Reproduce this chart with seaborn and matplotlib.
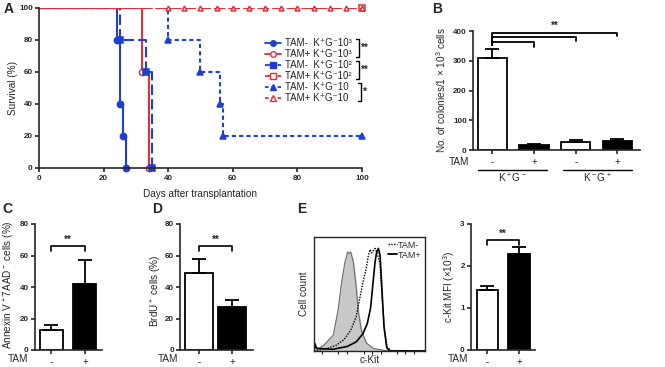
import numpy as np
import pandas as pd
import matplotlib
matplotlib.use('Agg')
import matplotlib.pyplot as plt
import seaborn as sns
from matplotlib.lines import Line2D

sns.set_style('ticks')
plt.rcParams['font.family'] = ['Liberation Sans', 'DejaVu Sans']
plt.rcParams['mathtext.default'] = 'regular'
plt.rcParams['axes.linewidth'] = 1.2
plt.rcParams['xtick.major.width'] = 1.2
plt.rcParams['ytick.major.width'] = 1.2
plt.rcParams['xtick.major.size'] = 3
plt.rcParams['ytick.major.size'] = 3
plt.rcParams['xtick.major.pad'] = 2
plt.rcParams['ytick.major.pad'] = 1.5

BLUE = '#1f3fd0'
RED = '#e0303a'

# ---------- dados ----------
# A: curvas de sobrevida (tempo do evento, sobrevida após o evento)
t_neg_1e3 = [0, 24, 25, 26, 27]
s_neg_1e3 = [100, 80, 40, 20, 0]
t_pos_1e3 = [0, 32, 34]
s_pos_1e3 = [100, 60, 0]
t_neg_1e2 = [0, 25, 33, 35]
s_neg_1e2 = [100, 80, 60, 0]
t_pos_1e2 = [0, 100]
s_pos_1e2 = [100, 100]
t_neg_10 = [0, 40, 50, 56, 57, 100]
s_neg_10 = [100, 80, 60, 40, 20, 20]
t_pos_10 = [0, 40, 45, 50, 55, 60, 65, 70, 75, 80, 85, 90, 95, 100]
s_pos_10 = [100] * len(t_pos_10)

# B: colônias
b_groups = ['K+G- TAM-', 'K+G- TAM+', 'K-G+ TAM-', 'K-G+ TAM+']
b_mean = [310, 17, 27, 31]
b_err = [28, 3, 8, 5]

# C: Annexin V+ 7AAD-
c_mean = [12.5, 42]
c_err = [3.5, 15]
# D: BrdU+
d_mean = [49, 27.5]
d_err = [9, 4]
# E: c-Kit MFI
e_mean = [1.43, 2.29]
e_err = [0.09, 0.16]
tam_labels = ['-', '+']

# E: histogramas (escala relativa 0-100)
h_ctrl_x = [0, 1, 4, 8.4, 17.4, 21.9, 24.9, 27.9, 30.3, 31.8, 33, 35.4, 37.8, 39.9, 42.9, 47.4, 53.5, 62.5, 100]
h_ctrl_y = [0, 4, 2, 4.7, 14, 37.3, 60.6, 78.1, 86.9, 85.4, 86.9, 78.1, 57.7, 34.4, 16.9, 6.7, 2.3, 0.6, 0]
h_neg_x = [0, 11, 20, 27, 33, 38, 41, 44, 47, 49, 50.5, 52, 53.5, 55, 57, 59.5, 61.5, 63.5, 66, 70, 100]
h_neg_y = [0, 2, 5, 10, 18, 30, 45, 60, 72, 84, 89, 86, 88, 90, 86, 76, 45, 18, 3, 0, 0]
h_pos_x = [0, 0.6, 2.4, 17, 30, 38, 44, 48, 51, 53, 55, 56.5, 58, 59.5, 61, 63, 65.5, 68.5, 100]
h_pos_y = [0, 6.7, 2.3, 1.5, 4, 8, 15, 24, 38, 58, 78, 87, 90, 84, 58, 22, 3, 0, 0]

W, H = 665, 367
TICK_FS = 5.8
LAB_FS = 7.2
fig = plt.figure(figsize=(W / 100, H / 100), dpi=100)


def add_ax(l, t, r, b):
    return fig.add_axes([l / W, 1 - b / H, (r - l) / W, (b - t) / H])


def fx(x):
    return x / W


def fy(y):
    return 1 - y / H


def style(ax):
    for lab in ax.get_xticklabels() + ax.get_yticklabels():
        lab.set_fontweight('bold')
        lab.set_fontsize(TICK_FS)
    sns.despine(ax=ax)


def bracket(ax, x0, x1, y, drop, txt):
    ax.plot([x0, x0, x1, x1], [y - drop, y, y, y - drop], color='black', lw=1.2, clip_on=False)
    ax.text((x0 + x1) / 2, y + drop * 0.3, txt, ha='center', va='bottom', fontsize=7, fontweight='bold')


def small_bars(ax, means, errs, ylim, yticks, width, xlim):
    df = pd.DataFrame({'g': tam_labels, 'v': means})
    sns.barplot(data=df, x='g', y='v', hue='g', palette=['white', 'black'], width=width,
                edgecolor='black', linewidth=1.3, legend=False, ax=ax)
    ax.errorbar([0, 1], means, yerr=[[0, 0], errs], fmt='none', ecolor='black', elinewidth=1.3,
                capsize=5, capthick=1.3)
    ax.set_ylim(*ylim)
    ax.set_yticks(yticks)
    ax.set_xlim(*xlim)
    ax.set_xlabel('')
    ax.set_ylabel('')
    ax.set_xticks([0, 1])
    ax.set_xticklabels(tam_labels)
    style(ax)
    for lab in ax.get_xticklabels():
        lab.set_fontweight('normal')
        lab.set_fontsize(7)


# ---------- A ----------
axA = add_ax(39, 8, 362, 168)
curves = [
    (t_neg_1e3, s_neg_1e3, BLUE, '-', 'o', BLUE, 'TAM-  K⁺G⁻10³'),
    (t_pos_1e3, s_pos_1e3, RED, '-', 'o', 'white', 'TAM+ K⁺G⁻10³'),
    (t_neg_1e2, s_neg_1e2, BLUE, (0, (5, 2)), 's', BLUE, 'TAM-  K⁺G⁻10²'),
    (t_pos_1e2, s_pos_1e2, RED, (0, (5, 2)), 's', 'white', 'TAM+ K⁺G⁻10²'),
    (t_neg_10, s_neg_10, BLUE, (0, (2, 1.5)), '^', BLUE, 'TAM-  K⁺G⁻10'),
    (t_pos_10, s_pos_10, RED, (0, (2, 1.5)), '^', 'white', 'TAM+ K⁺G⁻10'),
]
for i, (t, s, c, ls, mk, mfc, lab) in enumerate(curves):
    sns.lineplot(x=t, y=s, drawstyle='steps-post', color=c, linestyle=ls, lw=1.5, ax=axA,
                 estimator=None, sort=False)
    ms = 3.5 if (mk == '^' and mfc == 'white') else 4.5
    axA.plot(t[1:], s[1:], linestyle='none', marker=mk, ms=ms, mfc=mfc, mec=c, mew=1.1, clip_on=False)
    # legenda manual
    yl = 43 + 11 * i
    fig.add_artist(Line2D([fx(265), fx(281)], [fy(yl), fy(yl)], color=c, linestyle=ls, lw=1.3))
    fig.add_artist(Line2D([fx(273)], [fy(yl)], marker=mk, ms=4, mfc=mfc, mec=c, mew=1.0, linestyle='none'))
    fig.text(fx(285), fy(yl), lab, fontsize=7, va='center')
axA.set_xlim(0, 100)
axA.set_ylim(0, 100)
axA.set_xticks([0, 20, 40, 60, 80, 100])
axA.set_yticks([0, 20, 40, 60, 80, 100])
axA.set_xlabel('Days after transplantation', fontsize=LAB_FS)
axA.set_ylabel('Survival (%)', fontsize=LAB_FS)
axA.xaxis.set_label_coords(0.5, -0.13)
axA.yaxis.set_label_coords(-0.065, 0.5)
style(axA)
# colchetes de significância da legenda
for y0, y1, txt, xb in [(39, 57, '**', 356), (61, 79, '**', 356), (83, 101, '*', 358)]:
    fig.add_artist(Line2D([fx(xb), fx(xb + 3), fx(xb + 3), fx(xb)],
                          [fy(y0), fy(y0), fy(y1), fy(y1)], color='black', lw=1.0))
    fig.text(fx(xb + 5), fy((y0 + y1) / 2), txt, fontsize=7, fontweight='bold', va='center')

# ---------- B ----------
axB = add_ax(473, 31, 640, 150)
dfB = pd.DataFrame({'g': b_groups, 'v': b_mean})
sns.barplot(data=dfB, x='g', y='v', hue='g', palette=['white', 'black', 'white', 'black'], width=0.7,
            edgecolor='black', linewidth=1.3, legend=False, ax=axB)
axB.errorbar(range(4), b_mean, yerr=[[0] * 4, b_err], fmt='none', ecolor='black', elinewidth=1.3,
             capsize=5, capthick=1.3)
axB.set_ylim(0, 400)
axB.set_yticks([0, 100, 200, 300, 400])
axB.set_xlim(-0.46, 3.54)
axB.set_xticks(range(4))
axB.set_xticklabels(['-', '+', '-', '+'])
axB.set_xlabel('')
axB.set_ylabel('No. of colonies/1 × 10$^3$ cells', fontsize=LAB_FS)
axB.yaxis.set_label_coords(-0.15, 0.5)
style(axB)
for lab in axB.get_xticklabels():
    lab.set_fontweight('normal')
    lab.set_fontsize(7)
for x1, y, yd in [(1, 363, 346), (2, 380, 366), (3, 394, 382)]:
    axB.plot([0, 0, x1, x1], [352, y, y, yd], color='black', lw=1.3, clip_on=False)
axB.text(1.5, 401, '**', ha='center', va='bottom', fontsize=7, fontweight='bold')
fig.text(fx(449), fy(162), 'TAM', fontsize=LAB_FS, va='center')
for x0, x1, lab in [(478, 547, 'K$^+$G$^-$'), (563, 632, 'K$^-$G$^+$')]:
    fig.add_artist(Line2D([fx(x0), fx(x1)], [fy(170), fy(170)], color='black', lw=1.0))
    fig.text(fx((x0 + x1) / 2), fy(178), lab, fontsize=LAB_FS, ha='center', va='center')

# ---------- C ----------
axC = add_ax(35, 224, 102, 350)
small_bars(axC, c_mean, c_err, (0, 80), [0, 20, 40, 60, 80], 0.69, (-0.49, 1.51))
axC.set_ylabel('Annexin V$^+$7AAD$^-$ cells (%)', fontsize=LAB_FS)
axC.yaxis.set_label_coords(-0.27, 0.52)
bracket(axC, 0, 1, 66, 3, '**')

# ---------- D ----------
axD = add_ax(180, 224, 253, 350)
small_bars(axD, d_mean, d_err, (0, 80), [0, 20, 40, 60, 80], 0.85, (-0.58, 1.64))
axD.set_ylabel('BrdU$^+$ cells (%)', fontsize=LAB_FS)
axD.yaxis.set_label_coords(-0.215, 0.47)
bracket(axD, 0, 1, 66, 3, '**')

# ---------- E histograma ----------
axH = add_ax(314, 237, 425, 351)
sns.lineplot(x=h_ctrl_x, y=h_ctrl_y, color='#707070', lw=0.8, ax=axH, estimator=None, sort=False)
axH.fill_between(h_ctrl_x, h_ctrl_y, color='#c8c8c8', zorder=1)
sns.lineplot(x=h_neg_x, y=h_neg_y, color='black', lw=1.0, linestyle=(0, (1, 1)), ax=axH,
             estimator=None, sort=False)
sns.lineplot(x=h_pos_x, y=h_pos_y, color='black', lw=1.2, ax=axH, estimator=None, sort=False)
axH.set_xlim(0, 100)
axH.set_ylim(0, 100)
axH.set_yticks([])
axH.set_xticks([7, 22, 30, 45, 52, 60, 75, 82, 90], labels=[])
axH.tick_params(axis='x', length=2, width=0.8)
for sp in axH.spines.values():
    sp.set_linewidth(1.0)
axH.set_xlabel('c-Kit', fontsize=LAB_FS)
axH.xaxis.set_label_coords(0.5, -0.035)
axH.set_ylabel('Cell count', fontsize=LAB_FS)
axH.yaxis.set_label_coords(-0.045, 0.5)
axH.legend([Line2D([], [], color='black', lw=1.0, linestyle=(0, (1, 1))),
            Line2D([], [], color='black', lw=1.3)], ['TAM-', 'TAM+'],
           loc='upper right', frameon=False, fontsize=6.5, handlelength=1.0, handletextpad=0.1,
           labelspacing=0.1, borderaxespad=0.3, borderpad=0.1)

# ---------- E barras ----------
axE = add_ax(471, 224, 535, 350)
small_bars(axE, e_mean, e_err, (0, 3), [0, 1, 2, 3], 0.68, (-0.52, 1.51))
axE.set_ylabel('c-Kit MFI (×10$^3$)', fontsize=LAB_FS)
axE.yaxis.set_label_coords(-0.22, 0.5)
bracket(axE, 0, 1, 2.62, 0.11, '**')

# TAM das barras pequenas
for x in [8, 158, 448]:
    fig.text(fx(x), fy(359), 'TAM', fontsize=LAB_FS, va='center')

# letras dos painéis
for x, y, l in [(4, 9, 'A'), (432, 9, 'B'), (2, 209, 'C'), (152, 209, 'D'), (297, 209, 'E')]:
    fig.text(fx(x), fy(y), l, fontsize=10, fontweight='bold', va='center')

fig.savefig('out.png', dpi=100)
